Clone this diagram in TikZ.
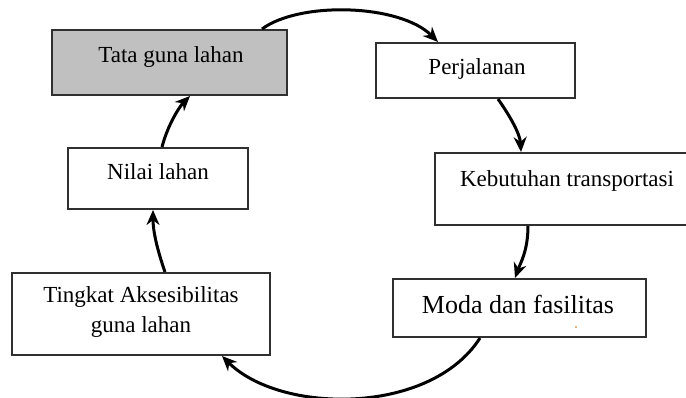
\documentclass[tikz,border=0pt]{standalone}
\usepackage{fontspec}
\setmainfont{Liberation Serif}
\usetikzlibrary{arrows.meta}
\definecolor{boxgray}{HTML}{C0C0C0}
\definecolor{edgegray}{HTML}{303030}
\begin{document}
\begin{tikzpicture}[x=1pt,y=-1pt,
  box/.style={draw=edgegray,line width=2pt,fill=white,rectangle,inner sep=0pt},
  txt/.style={anchor=base,inner sep=0pt,font=\fontsize{23}{27}\selectfont},
  flow/.style={line width=3pt,-{Stealth[length=15pt,width=13pt]}}]
\useasboundingbox (0,0) rectangle (686,398);
% boxes
\node[box,fill=boxgray,minimum width=235pt,minimum height=65pt] (tata) at (169.5,62.5) {};
\node[box,minimum width=180pt,minimum height=61pt] (nilai) at (158,178.5) {};
\node[box,minimum width=258pt,minimum height=82pt] (tingkat) at (141,314) {};
\node[box,minimum width=199pt,minimum height=55pt] (perj) at (475.5,70.5) {};
\node[box,minimum width=265pt,minimum height=72pt] (kebut) at (567.5,189) {};
\node[box,minimum width=253pt,minimum height=58pt] (moda) at (519.5,308) {};
% texts
\node[txt] (tataT) at (171,63) {Tata guna lahan};
\node[txt] (nilaiT) at (158,180) {Nilai lahan};
\node[txt] (perjT) at (477,75) {Perjalanan};
\node[txt] (kebutT) at (567,187) {Kebutuhan transportasi};
\node[txt,font=\fontsize{26}{30}\selectfont] (modaT) at (518,313) {Moda dan fasilitas};
\node[txt] (tingkatT1) at (141,303) {Tingkat Aksesibilitas};
\node[txt] (tingkatT2) at (141,333) {guna lahan};
\fill[orange!80!black] (576,327) circle (0.9pt);
% connectors
\draw[flow] ([xshift=92.5pt]tata.north) .. controls +(38,-28) and +(-38,-38) .. ([xshift=-37.5pt]perj.north);
\draw[flow] ([xshift=22.5pt]perj.south) .. controls +(12,17) and +(-1,-18) .. ([xshift=-46.5pt]kebut.north);
\draw[flow] ([xshift=-39.5pt]kebut.south) .. controls +(0,25) and +(5,-14) .. ([xshift=-4.5pt]moda.north);
\draw[flow] ([xshift=-39.5pt]moda.south) .. controls +(-50,78) and +(58,58) .. ([xshift=81pt]tingkat.south);
\draw[flow] ([xshift=24pt]tingkat.north) .. controls +(-8,-23) and +(0,21) .. ([xshift=-5pt]nilai.south);
\draw[flow] ([xshift=4pt]nilai.north) .. controls +(6,-23) and +(-10,10) .. ([xshift=20.5pt]tata.south);
\end{tikzpicture}
\end{document}
